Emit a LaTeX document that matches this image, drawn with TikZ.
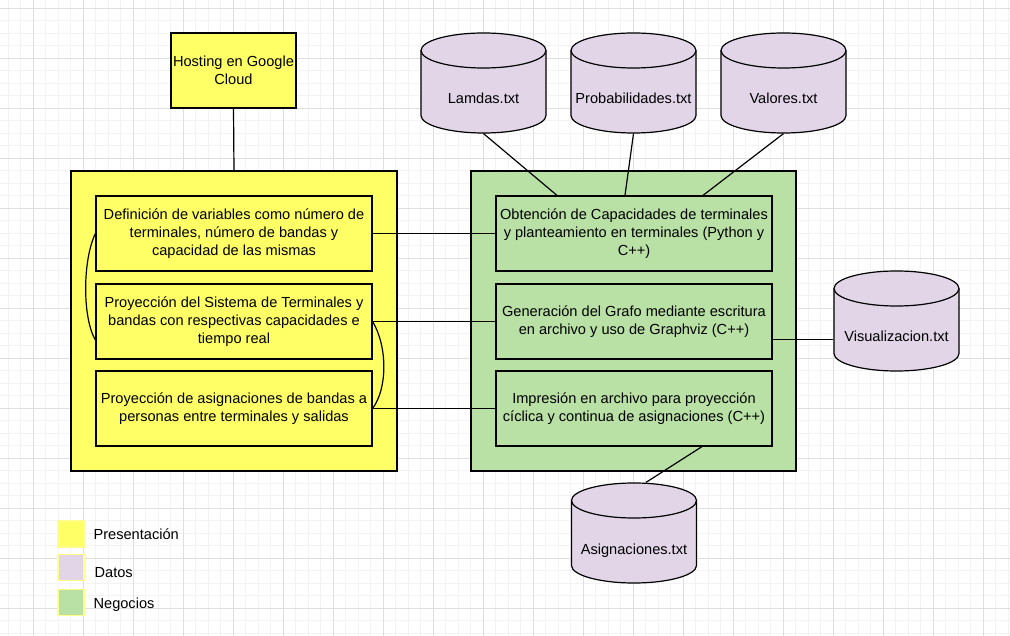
\documentclass[tikz,border=0pt]{standalone}
\usepackage{fontspec}
\setmainfont{Liberation Sans}
\usetikzlibrary{calc}
\definecolor{capaAmarilla}{HTML}{FFFF66}
\definecolor{capaMorada}{HTML}{E1D5E7}
\definecolor{capaVerde}{HTML}{B9E0A5}
\definecolor{bordeLeyenda}{HTML}{FFFF88}
\definecolor{gridMenor}{HTML}{F3F3F3}
\definecolor{gridMayor}{HTML}{DFDFDF}
% cilindro de datos: nombre, x, y (centro), texto
\newcommand{\archivo}[4]
{
  \draw[fill=capaMorada] ({#2-62.5},{#3-32.5}) -- ({#2-62.5},{#3+32.5})
    arc[start angle=180, end angle=360, x radius=62.5pt, y radius=17.5pt]
    -- ({#2+62.5},{#3-32.5})
    arc[start angle=0, end angle=180, x radius=62.5pt, y radius=17.5pt] -- cycle;
  \draw ({#2-62.5},{#3-32.5})
    arc[start angle=180, end angle=360, x radius=62.5pt, y radius=17.5pt];
  \node[archivo](#1) at (#2,#3) {#4};
}
\begin{document}
\begin{tikzpicture}
    [
      x=1pt,
      y=-1pt,
      line width=1.2pt,
      font=\fontsize{14.6}{17.8}\selectfont,
      capa/.style=
      {
        draw,
        inner sep=0pt,
        minimum width=326pt,
        minimum height=300pt,
        fill=#1,
      },
      caja/.style=
      {
        draw,
        align=center,
        inner sep=0pt,
        minimum width=276pt,
        minimum height=75pt,
        fill=#1,
      },
      archivo/.style=
      {
        inner sep=0pt,
        minimum width=125pt,
        minimum height=100pt,
        text height=45pt,
        text depth=3pt,
      },
      leyenda/.style=
      {
        draw=bordeLeyenda,
        inner sep=0pt,
        minimum width=26pt,
        minimum height=26pt,
        fill=#1,
      },
      txt/.style=
      {
        anchor=base west,
        inner sep=0pt,
      }
    ]
    \useasboundingbox (0,0) rectangle (1010,636);
    \fill[white] (0,0) rectangle (1010,636);
    % cuadricula
    \foreach \x in {8,20.5,...,1010}
      \draw[gridMenor, line width=0.8pt] (\x,0) -- (\x,636);
    \foreach \y in {8,20.5,...,636}
      \draw[gridMenor, line width=0.8pt] (0,\y) -- (1010,\y);
    \foreach \x in {33,83,...,1010}
      \draw[gridMayor, line width=0.8pt] (\x,0) -- (\x,636);
    \foreach \y in {8,58,...,636}
      \draw[gridMayor, line width=0.8pt] (0,\y) -- (1010,\y);

    \node[caja=capaAmarilla, minimum width=125pt](Hosting) at (233.5,70.5)
    {
      Hosting en Google\\Cloud
    };
    \node[capa=capaAmarilla](Presentacion) at (234,321) {};
    \node[capa=capaVerde, minimum width=325pt](Negocios) at (633.5,321) {};

    \node[caja=capaAmarilla](DefVars) at (234,233.5)
    {
      Definición de variables como número de\\
      terminales, número de bandas y\\
      capacidad de las mismas
    };
    \node[caja=capaAmarilla, below of=DefVars, node distance=88pt](ProySistema)
    {
      Proyección del Sistema de Terminales y\\
      bandas con respectivas capacidades e\\
      tiempo real
    };
    \node[caja=capaAmarilla, below of=ProySistema, node distance=87pt](AsigBandas)
    {
      Proyección de asignaciones de bandas a\\
      personas entre terminales y salidas
    };

    \node[caja=capaVerde, right of=DefVars, node distance=400pt](Obtencion)
    {
      Obtención de Capacidades de terminales\\
      y planteamiento en terminales (Python y\\
      C++)
    };
    \node[caja=capaVerde, right of=ProySistema, node distance=400pt](Generacion)
    {
      Generación del Grafo mediante escritura\\
      en archivo y uso de Graphviz (C++)
    };
    \node[caja=capaVerde, right of=AsigBandas, node distance=400pt](Impresion)
    {
      Impresión en archivo para proyección\\
      cíclica y continua de asignaciones (C++)
    };

    \archivo{Lamdas}{483.5}{83}{Lamdas.txt}
    \archivo{Probabilidades}{633.5}{83}{Probabilidades.txt}
    \archivo{Valores}{783.5}{83}{Valores.txt}
    \archivo{Visualizacion}{896.5}{321}{Visualizacion.txt}
    \archivo{Asignaciones}{634}{533}{Asignaciones.txt}

    \coordinate (LamdasIn) at ($(Obtencion.north)+(-77,0)$);
    \coordinate (ProbIn) at ($(Obtencion.north)+(-9,0)$);
    \coordinate (ValoresIn) at ($(Obtencion.north)+(69,0)$);
    \coordinate (GenOut) at ($(Generacion.east)+(0,18)$);
    \coordinate (ImpOut) at ($(Impresion.south)+(68,0)$);
    \coordinate (AsigIn) at ($(Asignaciones.north)+(12,0)$);
    \coordinate (ProyIzq) at ($(ProySistema.west)+(0,18.5)$);

    \draw (Hosting.south) -- (Presentacion.north);
    \draw (DefVars.east) -- (Obtencion.west);
    \draw (ProySistema.east) -- (Generacion.west);
    \draw (AsigBandas.east) -- (Impresion.west);
    \draw (Lamdas.south) -- (LamdasIn);
    \draw (Probabilidades.south) -- (ProbIn);
    \draw (Valores.south) -- (ValoresIn);
    \draw (GenOut) -- (GenOut -| Visualizacion.west);
    \draw (ImpOut) -- (AsigIn);
    \draw (DefVars.west) .. controls +(-13,27) and +(-13,-22) .. (ProyIzq);
    \draw (ProySistema.east) .. controls +(15,25) and +(15,-20) .. (AsigBandas.east);

    % leyenda
    \node[leyenda=capaAmarilla](LeyPresentacion) at (71,534) {};
    \node[leyenda=capaMorada](LeyDatos) at (71,567.5) {};
    \node[leyenda=capaVerde](LeyNegocios) at (71,602.5) {};
    \node[txt](TxtPresentacion) at (93,539) {Presentación};
    \node[txt](TxtDatos) at (94,577) {Datos};
    \node[txt](TxtNegocios) at (93,608) {Negocios};
  \end{tikzpicture}
\end{document}
